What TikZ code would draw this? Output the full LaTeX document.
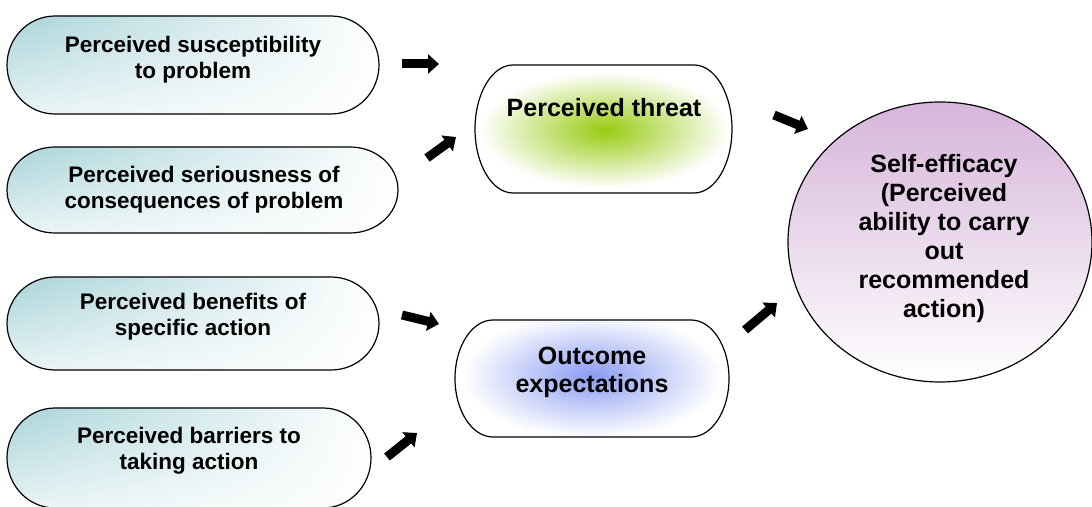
\documentclass[tikz,border=0pt]{standalone}
\usepackage{fontspec}
\setmainfont{Liberation Sans}
\usetikzlibrary{arrows.meta,fadings}
\definecolor{tealc}{HTML}{A8D4D9}
\definecolor{greenc}{HTML}{98CB10}
\definecolor{bluec}{HTML}{8A9CF2}
\definecolor{purplec}{HTML}{D6B5DA}
\begin{document}
\begin{tikzpicture}[x=1pt,y=1pt,
  outline/.style={draw=black, line width=1.2pt},
  leftfill/.style={left color=tealc, right color=white},
  whiteveil/.style={fill=white, path fading=north, fill opacity=0.75},
  lefttxt/.style={font=\fontsize{22.5}{26}\selectfont\bfseries, align=center, inner sep=0pt},
  midtxt/.style={font=\fontsize{25}{28}\selectfont\bfseries, align=center, inner sep=0pt},
  blockarrow/.style={line width=9pt, -{Triangle[length=11pt,width=19pt]}}]
\useasboundingbox (0,0) rectangle (1092,506);

\def\pillA{(55,490) -- (331,490) arc[start angle=90,end angle=-90,x radius=48,y radius=49] -- (55,392) arc[start angle=270,end angle=90,x radius=48,y radius=49] -- cycle}
\def\pillB{(55,359) -- (350,359) arc[start angle=90,end angle=-90,x radius=48,y radius=43] -- (55,273) arc[start angle=270,end angle=90,x radius=48,y radius=43] -- cycle}
\def\pillC{(55,229) -- (331,229) arc[start angle=90,end angle=-90,x radius=48,y radius=46.5] -- (55,136) arc[start angle=270,end angle=90,x radius=48,y radius=46.5] -- cycle}
\def\pillD{(55,98) -- (323,98) arc[start angle=90,end angle=-90,x radius=48,y radius=50] -- (55,-2) arc[start angle=270,end angle=90,x radius=48,y radius=50] -- cycle}
\def\pillT{(513,441) -- (694,441) arc[start angle=90,end angle=-90,x radius=38,y radius=64] -- (513,313) arc[start angle=270,end angle=90,x radius=38,y radius=64] -- cycle}
\def\pillO{(493,186) -- (691,186) arc[start angle=90,end angle=-90,x radius=38,y radius=58.5] -- (493,69) arc[start angle=270,end angle=90,x radius=38,y radius=58.5] -- cycle}

% left pills
\path[leftfill] \pillA; \path[whiteveil] \pillA; \path[outline] \pillA;
\path[leftfill] \pillB; \path[whiteveil] \pillB; \path[outline] \pillB;
\path[leftfill] \pillC; \path[whiteveil] \pillC; \path[outline] \pillC;
\path[leftfill] \pillD; \path[whiteveil] \pillD; \path[outline] \pillD;

% perceived threat
\begin{scope}
\path[clip] \pillT;
\fill[white] (470,300) rectangle (740,450);
\shade[inner color=greenc, outer color=white] (605,376) ellipse[x radius=125, y radius=58];
\end{scope}
\path[outline] \pillT;

% outcome expectations
\begin{scope}
\path[clip] \pillO;
\fill[white] (450,60) rectangle (740,190);
\shade[inner color=bluec, outer color=white] (592,130) ellipse[x radius=130, y radius=62];
\end{scope}
\path[outline] \pillO;

% self-efficacy ellipse
\path[outline, top color=purplec, bottom color=white] (940,264) ellipse[x radius=152, y radius=140];

% texts
\node[lefttxt] (sus) at (193,446) {Perceived susceptibility\\to problem};
\node[lefttxt] (ser) at (204,316) {Perceived seriousness of\\consequences of problem};
\node[lefttxt] (ben) at (193,189) {Perceived benefits of\\specific action};
\node[lefttxt] (bar) at (189,55) {Perceived barriers to\\taking action};
\node[midtxt] (thr) at (604,398) {Perceived threat};
\node[midtxt] (out) at (592,134) {Outcome\\expectations};
\node[midtxt, font=\fontsize{25}{29}\selectfont\bfseries] (eff) at (944,267) {Self-efficacy\\(Perceived\\ability to carry\\out\\recommended\\action)};

% arrow anchors
\coordinate (a1s) at (402,442); \coordinate (a1e) at (439,442);
\coordinate (a2s) at (427,348); \coordinate (a2e) at (456,369);
\coordinate (a3s) at (402,191); \coordinate (a3e) at (439,182);
\coordinate (a4s) at (387,49);  \coordinate (a4e) at (417,73);
\coordinate (a5s) at (774,391); \coordinate (a5e) at (808,377);
\coordinate (a6s) at (745,176); \coordinate (a6e) at (777,203);
\draw[blockarrow] (a1s) -- (a1e);
\draw[blockarrow] (a2s) -- (a2e);
\draw[blockarrow] (a3s) -- (a3e);
\draw[blockarrow] (a4s) -- (a4e);
\draw[blockarrow] (a5s) -- (a5e);
\draw[blockarrow] (a6s) -- (a6e);
\end{tikzpicture}
\end{document}
